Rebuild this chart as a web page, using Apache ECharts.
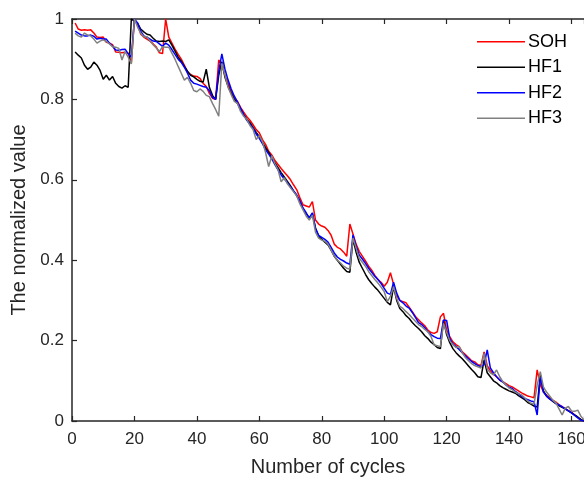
<!DOCTYPE html>
<html>
<head>
<meta charset="utf-8">
<script src="https://cdn.jsdelivr.net/npm/echarts@6/dist/echarts.min.js"></script>
<style>
html,body{margin:0;padding:0;background:#fff;}
#chart{width:584px;height:482px;}
</style>
</head>
<body>
<div id="chart"></div>
<script>
// Cycle numbers 1..164
const cycles = Array.from({length: 164}, (_, i) => i + 1);
const xTicks = [0, 20, 40, 60, 80, 100, 120, 140, 160];
const yTicks = [0, 0.2, 0.4, 0.6, 0.8, 1];
const seriesNames = ['SOH', 'HF1', 'HF2', 'HF3'];

const soh = [
0.99,0.975,0.972,0.973,0.972,0.973,0.965,0.955,0.954,0.955,
0.942,0.94,0.936,0.918,0.917,0.916,0.917,0.915,0.89,1.0,
0.985,0.963,0.955,0.95,0.945,0.938,0.93,0.916,0.914,1.0,
0.955,0.94,0.925,0.912,0.9,0.885,0.868,0.862,0.858,0.857,
0.852,0.84,0.832,0.815,0.803,0.8,0.898,0.888,0.86,0.84,
0.82,0.805,0.795,0.78,0.768,0.757,0.748,0.737,0.725,0.717,
0.7,0.688,0.671,0.662,0.648,0.638,0.628,0.619,0.61,0.6,
0.587,0.575,0.555,0.538,0.535,0.532,0.546,0.5,0.49,0.485,
0.482,0.474,0.462,0.44,0.432,0.428,0.42,0.41,0.49,0.465,
0.44,0.422,0.41,0.398,0.385,0.375,0.362,0.352,0.345,0.335,
0.345,0.369,0.34,0.312,0.3,0.297,0.294,0.283,0.272,0.26,
0.252,0.244,0.237,0.226,0.22,0.218,0.222,0.259,0.268,0.226,
0.21,0.197,0.19,0.185,0.172,0.165,0.158,0.15,0.147,0.14,
0.138,0.172,0.138,0.125,0.116,0.11,0.102,0.098,0.093,0.088,
0.085,0.08,0.075,0.07,0.066,0.062,0.06,0.058,0.127,0.09,
0.073,0.064,0.058,0.052,0.047,0.04,0.036,0.031,0.026,0.022,
0.015,0.009,0.003,0
];

const hf1 = [
0.918,0.91,0.903,0.885,0.875,0.88,0.893,0.885,0.872,0.85,
0.86,0.848,0.857,0.84,0.832,0.828,0.834,0.83,1.0,0.995,
0.99,0.975,0.968,0.962,0.96,0.952,0.945,0.944,0.945,0.944,
0.948,0.935,0.92,0.905,0.895,0.882,0.87,0.86,0.856,0.85,
0.845,0.843,0.875,0.83,0.81,0.8,0.86,0.894,0.855,0.832,
0.815,0.8,0.79,0.775,0.762,0.75,0.742,0.73,0.718,0.707,
0.693,0.68,0.668,0.656,0.642,0.63,0.618,0.607,0.596,0.585,
0.572,0.56,0.546,0.528,0.516,0.505,0.516,0.48,0.46,0.452,
0.445,0.438,0.425,0.41,0.4,0.39,0.38,0.372,0.37,0.452,
0.42,0.395,0.38,0.365,0.352,0.342,0.333,0.325,0.315,0.305,
0.295,0.289,0.334,0.3,0.28,0.272,0.262,0.255,0.245,0.237,
0.23,0.222,0.212,0.205,0.196,0.19,0.183,0.18,0.251,0.215,
0.195,0.18,0.17,0.162,0.155,0.146,0.137,0.128,0.12,0.11,
0.108,0.152,0.12,0.11,0.1,0.095,0.088,0.083,0.079,0.075,
0.072,0.069,0.063,0.058,0.053,0.046,0.042,0.037,0.035,0.115,
0.075,0.062,0.055,0.049,0.043,0.038,0.034,0.03,0.025,0.02,
0.015,0.01,0.004,0
];

const hf2 = [
0.97,0.965,0.96,0.958,0.958,0.96,0.957,0.95,0.952,0.95,
0.95,0.94,0.932,0.923,0.922,0.924,0.925,0.914,0.905,1.0,
0.99,0.97,0.958,0.955,0.95,0.945,0.944,0.938,0.932,0.94,
0.935,0.924,0.912,0.9,0.892,0.88,0.865,0.848,0.84,0.838,
0.835,0.832,0.83,0.822,0.805,0.8,0.87,0.913,0.875,0.848,
0.826,0.808,0.793,0.778,0.762,0.748,0.738,0.728,0.714,0.703,
0.69,0.675,0.664,0.652,0.638,0.625,0.612,0.602,0.593,0.582,
0.572,0.562,0.548,0.53,0.518,0.505,0.518,0.478,0.462,0.457,
0.452,0.445,0.432,0.418,0.408,0.402,0.398,0.393,0.39,0.463,
0.435,0.413,0.403,0.392,0.38,0.37,0.36,0.352,0.342,0.33,
0.318,0.315,0.345,0.318,0.3,0.294,0.286,0.281,0.27,0.258,
0.245,0.24,0.232,0.222,0.215,0.21,0.206,0.205,0.251,0.25,
0.205,0.192,0.185,0.178,0.17,0.162,0.155,0.148,0.143,0.138,
0.135,0.14,0.177,0.132,0.12,0.11,0.102,0.097,0.09,0.084,
0.081,0.074,0.068,0.062,0.056,0.053,0.05,0.048,0.015,0.11,
0.072,0.062,0.055,0.05,0.044,0.04,0.035,0.03,0.025,0.02,
0.014,0.008,0.002,0
];

const hf3 = [
0.965,0.958,0.955,0.965,0.96,0.958,0.95,0.94,0.945,0.948,
0.944,0.938,0.931,0.93,0.927,0.898,0.919,0.905,0.888,1.0,
0.98,0.965,0.956,0.956,0.945,0.936,0.928,0.919,0.931,0.93,
0.93,0.915,0.9,0.882,0.865,0.848,0.855,0.84,0.822,0.819,
0.826,0.82,0.81,0.807,0.79,0.775,0.758,0.89,0.86,0.83,
0.812,0.795,0.79,0.77,0.758,0.75,0.735,0.725,0.7,0.71,
0.695,0.668,0.633,0.66,0.64,0.625,0.595,0.605,0.59,0.58,
0.57,0.56,0.54,0.525,0.51,0.5,0.512,0.47,0.455,0.45,
0.447,0.44,0.425,0.41,0.4,0.393,0.385,0.38,0.378,0.455,
0.43,0.405,0.395,0.385,0.372,0.362,0.352,0.343,0.333,0.322,
0.297,0.31,0.334,0.305,0.285,0.28,0.272,0.265,0.256,0.248,
0.24,0.235,0.228,0.222,0.21,0.189,0.187,0.185,0.243,0.22,
0.2,0.19,0.183,0.185,0.17,0.158,0.15,0.143,0.138,0.135,
0.132,0.168,0.13,0.12,0.115,0.127,0.11,0.098,0.09,0.082,
0.078,0.072,0.068,0.065,0.058,0.05,0.044,0.042,0.09,0.123,
0.085,0.072,0.062,0.052,0.045,0.03,0.015,0.032,0.036,0.025,
0.024,0.027,0.012,0.003
];

const seriesValues = [soh, hf1, hf2, hf3];
const colors = ['#ff0000', '#000000', '#0000ff', '#808080'];

const FONT = '"Liberation Sans", Arial, Helvetica, sans-serif';
const AXIS_COLOR = '#262626';

const chart = echarts.init(document.getElementById('chart'), null, {renderer: 'canvas'});

const axisCommon = {
  axisLine: {show: true, lineStyle: {color: AXIS_COLOR, width: 1.5}},
  axisTick: {show: true, inside: true, length: 5, lineStyle: {color: AXIS_COLOR, width: 1.2}},
  splitLine: {show: false}
};

const option = {
  animation: false,
  backgroundColor: '#ffffff',
  grid: {left: 72, right: 0, top: 19, bottom: 61, containLabel: false, outerBoundsMode: 'none'},
  legend: {
    data: seriesNames.map((n, k) => ({name: n, icon: 'rect', itemStyle: {color: colors[k]}})),
    orient: 'vertical',
    left: 477,
    top: 29,
    padding: 0,
    itemWidth: 48,
    itemHeight: 1.5,
    itemGap: 0,
    textStyle: {fontFamily: FONT, fontSize: 18, color: '#000', lineHeight: 25.5, padding: [0, 0, 0, -2]}
  },
  xAxis: [
    Object.assign({}, axisCommon, {
      type: 'value', min: 0, max: 164, interval: 20, position: 'bottom',
      name: 'Number of cycles', nameLocation: 'middle', nameGap: 36,
      nameTextStyle: {fontFamily: FONT, fontSize: 20, color: AXIS_COLOR},
      axisLabel: {
        fontFamily: FONT, fontSize: 17, color: AXIS_COLOR, margin: 10,
        formatter: v => (xTicks.indexOf(v) >= 0 ? String(v) : '')
      }
    }),
    Object.assign({}, axisCommon, {
      type: 'value', min: 0, max: 164, interval: 20, position: 'top',
      axisLabel: {show: false}
    })
  ],
  yAxis: [
    Object.assign({}, axisCommon, {
      type: 'value', min: 0, max: 1, interval: 0.2, position: 'left',
      name: 'The normalized value', nameLocation: 'middle', nameGap: 36,
      nameTextStyle: {fontFamily: FONT, fontSize: 20, color: AXIS_COLOR},
      axisLabel: {
        fontFamily: FONT, fontSize: 17, color: AXIS_COLOR, margin: 8,
        formatter: v => {
          const t = yTicks.find(y => Math.abs(y - v) < 1e-9);
          return t === undefined ? '' : String(t);
        }
      }
    })
  ],
  series: seriesNames.map((name, k) => ({
    name: name,
    type: 'line',
    xAxisIndex: 0,
    yAxisIndex: 0,
    data: cycles.map((c, i) => [c, seriesValues[k][i]]),
    symbol: 'none',
    showSymbol: false,
    clip: true,
    color: colors[k],
    lineStyle: {color: colors[k], width: 1.5},
    itemStyle: {color: colors[k]}
  }))
};

chart.setOption(option);
</script>
</body>
</html>
